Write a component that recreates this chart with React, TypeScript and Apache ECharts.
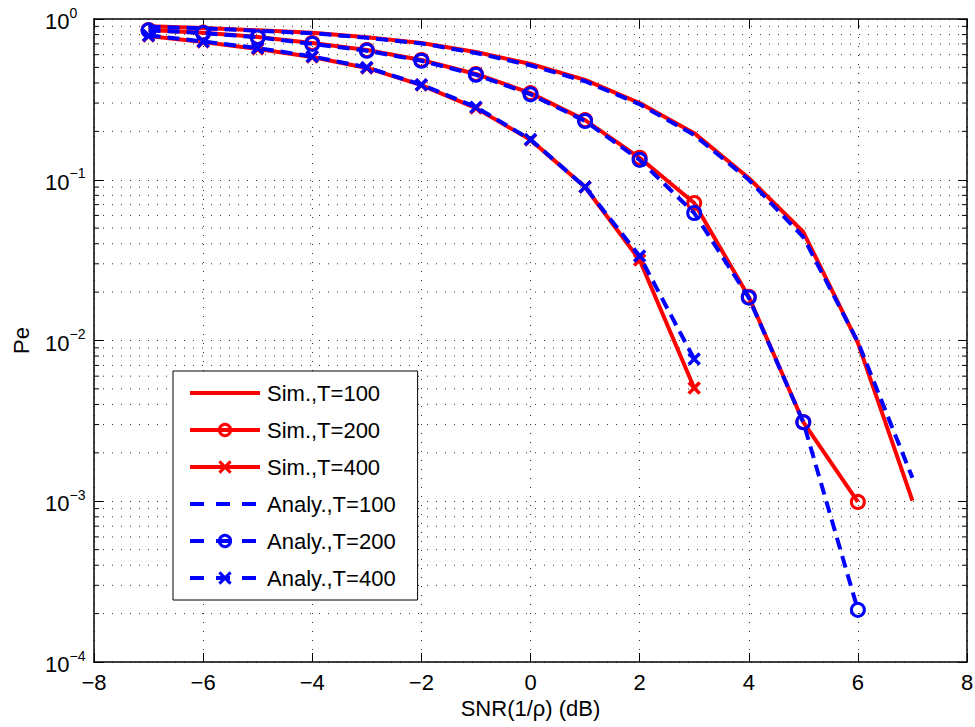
import React, { useEffect, useRef } from "react";
import * as echarts from "echarts";

const FONT = '"Liberation Sans", Arial, Helvetica, sans-serif';

// SNR values (dB)
const snr = [-7, -6, -5, -4, -3, -2, -1, 0, 1, 2, 3, 4, 5, 6, 7];

const simT100 = [0.9, 0.88, 0.85, 0.82, 0.77, 0.71, 0.623, 0.525, 0.418, 0.3, 0.195, 0.1026, 0.0473, 0.00966, 0.00101];
const anaT100 = [0.895, 0.875, 0.845, 0.815, 0.765, 0.705, 0.615, 0.515, 0.41, 0.295, 0.19, 0.1, 0.044, 0.0098, 0.0014];

const simT200 = [0.854, 0.822, 0.773, 0.709, 0.641, 0.556, 0.455, 0.346, 0.235, 0.137, 0.0717, 0.0187, 0.00311, 0.00099];
const anaT200 = [0.85, 0.818, 0.77, 0.7, 0.635, 0.55, 0.45, 0.34, 0.232, 0.133, 0.0621, 0.0185, 0.0031, 0.000211];

const simT400 = [0.784, 0.719, 0.651, 0.58, 0.496, 0.388, 0.279, 0.177, 0.0901, 0.0317, 0.00506];
const anaT400 = [0.79, 0.725, 0.66, 0.585, 0.5, 0.39, 0.283, 0.178, 0.09, 0.0335, 0.00767];

const seriesNames = [
  "Sim.,T=100",
  "Sim.,T=200",
  "Sim.,T=400",
  "Analy.,T=100",
  "Analy.,T=200",
  "Analy.,T=400",
];

// minor grid positions on the log axis (2..9 x 10^k)
const minorMultipliers = [2, 3, 4, 5, 6, 7, 8, 9];
const decades = [-4, -3, -2, -1];

const RED = "#ff0000";
const BLUE = "#0000ff";
const X_SYMBOL = "path://M0,0L10,10M0,10L10,0";
const TRANSPARENT = "rgba(0,0,0,0)";

function pairs(vals: number[]) {
  return vals.map((v, i) => [snr[i], v]);
}

export default function App() {
  const ref = useRef<HTMLDivElement>(null);

  useEffect(() => {
    if (!ref.current) return;
    const chart = echarts.init(ref.current, undefined, { renderer: "svg" });

    const minorVals: number[] = [];
    decades.forEach((d) => minorMultipliers.forEach((m) => minorVals.push(m * Math.pow(10, d))));

    const gridDot = { color: "#333", width: 1, type: [1, 8] as any };

    const lineSeries = (
      name: string,
      vals: number[],
      color: string,
      dashed: boolean,
      marker: "none" | "circle" | "x"
    ) => ({
      name,
      type: "line",
      data: pairs(vals),
      color,
      symbol: marker === "none" ? "none" : marker === "circle" ? "circle" : X_SYMBOL,
      symbolSize: marker === "circle" ? 13 : 11,
      showSymbol: marker !== "none",
      symbolKeepAspect: true,
      lineStyle: { color, width: 4, type: dashed ? [12, 7] : "solid" },
      itemStyle: {
        color: marker === "circle" ? TRANSPARENT : color,
        borderColor: color,
        borderWidth: marker === "circle" ? 3 : 3.5,
      },
      z: dashed ? 4 : 3,
      clip: true,
    });

    const legendItem = (name: string, color: string, dashed: boolean, hasMarker: boolean) => ({
      name,
      lineStyle: { color, width: 4, type: dashed ? [14, 12] : "solid" },
      itemStyle: hasMarker
        ? { color: TRANSPARENT, borderColor: color, borderWidth: 3 }
        : { color: TRANSPARENT, borderColor: TRANSPARENT, borderWidth: 0 },
    });

    const option: any = {
      animation: false,
      backgroundColor: "#fff",
      textStyle: { fontFamily: FONT },
      grid: { left: 94, right: 8, top: 19, bottom: 65, containLabel: false, outerBoundsMode: "none" },
      legend: {
        data: [
          legendItem(seriesNames[0], RED, false, false),
          legendItem(seriesNames[1], RED, false, true),
          legendItem(seriesNames[2], RED, false, true),
          legendItem(seriesNames[3], BLUE, true, false),
          legendItem(seriesNames[4], BLUE, true, true),
          legendItem(seriesNames[5], BLUE, true, true),
        ],
        orient: "vertical",
        left: 173,
        top: 371,
        itemWidth: 70,
        itemHeight: 14,
        itemGap: 13,
        padding: [10, 22, 10, 15],
        borderColor: "#000",
        borderWidth: 1,
        backgroundColor: "#fff",
        lineStyle: { width: 4 },
        itemStyle: { borderWidth: 3 },
        textStyle: { fontSize: 22, fontFamily: FONT, color: "#000", lineHeight: 24, padding: [0, 0, 0, 2] },
        z: 10,
      },
      xAxis: [
        {
          type: "value",
          min: -8,
          max: 8,
          interval: 2,
          position: "bottom",
          axisLine: { show: true, onZero: false, lineStyle: { color: "#000", width: 1.5 } },
          axisTick: { show: true, inside: true, length: 9, lineStyle: { color: "#000", width: 1 } },
          axisLabel: {
            fontSize: 22,
            fontFamily: FONT,
            color: "#000",
            margin: 9,
            formatter: (v: number) => String(v).replace("-", "\u2212"),
          },
          splitLine: { show: true, lineStyle: gridDot },
          name: "SNR(1/\u03c1) (dB)",
          nameLocation: "middle",
          nameGap: 34,
          nameTextStyle: { fontSize: 22, fontFamily: FONT, color: "#000" },
        },
        {
          type: "value",
          min: -8,
          max: 8,
          interval: 2,
          position: "top",
          axisLine: { show: true, onZero: false, lineStyle: { color: "#000", width: 1.5 } },
          axisTick: { show: true, inside: true, length: 9, lineStyle: { color: "#000", width: 1 } },
          axisLabel: { show: false },
          splitLine: { show: false },
        },
      ],
      yAxis: [
        {
          type: "log",
          logBase: 10,
          min: 1e-4,
          max: 1,
          position: "left",
          axisLine: { show: true, onZero: false, lineStyle: { color: "#000", width: 1.5 } },
          axisTick: { show: true, inside: true, length: 9, lineStyle: { color: "#000", width: 1 } },
          axisLabel: {
            margin: 49,
            align: "left",
            formatter: (v: number) => {
              const e = Math.round(Math.log10(v));
              const sup = e === 0 ? "0" : "\u2212" + Math.abs(e);
              return "{b|10}{s|" + sup + "}";
            },
            rich: {
              b: { fontSize: 22, lineHeight: 27, verticalAlign: "bottom", fontFamily: FONT, color: "#000" },
              s: { fontSize: 14, lineHeight: 14, verticalAlign: "top", fontFamily: FONT, color: "#000" },
            },
          },
          splitLine: { show: true, lineStyle: gridDot },
          minorTick: { show: false },
          name: "Pe",
          nameLocation: "middle",
          nameGap: 62,
          nameRotate: 90,
          nameTextStyle: { fontSize: 22, fontFamily: FONT, color: "#000" },
        },
        {
          type: "log",
          logBase: 10,
          min: 1e-4,
          max: 1,
          position: "right",
          axisLine: { show: true, onZero: false, lineStyle: { color: "#000", width: 1.5 } },
          axisTick: { show: true, inside: true, length: 9, lineStyle: { color: "#000", width: 1 } },
          axisLabel: { show: false },
          splitLine: { show: false },
        },
      ],
      series: [
        {
          name: "minorGrid",
          type: "custom",
          xAxisIndex: 0,
          yAxisIndex: 0,
          silent: true,
          z: 1,
          clip: false,
          data: minorVals.map((v) => [-8, v]),
          renderItem: (params: any, api: any) => {
            const pt = api.coord([-8, api.value(1)]);
            const cs = params.coordSys;
            const y = pt[1];
            return {
              type: "group",
              children: [
                {
                  type: "line",
                  shape: { x1: cs.x, y1: y, x2: cs.x + cs.width, y2: y },
                  style: { stroke: "#333", lineWidth: 1, lineDash: [1, 8] },
                },
                {
                  type: "line",
                  shape: { x1: cs.x, y1: y, x2: cs.x + 5, y2: y },
                  style: { stroke: "#000", lineWidth: 1 },
                },
                {
                  type: "line",
                  shape: { x1: cs.x + cs.width - 5, y1: y, x2: cs.x + cs.width, y2: y },
                  style: { stroke: "#000", lineWidth: 1 },
                },
              ],
            };
          },
        },
        lineSeries(seriesNames[0], simT100, RED, false, "none"),
        lineSeries(seriesNames[1], simT200, RED, false, "circle"),
        lineSeries(seriesNames[2], simT400, RED, false, "x"),
        lineSeries(seriesNames[3], anaT100, BLUE, true, "none"),
        lineSeries(seriesNames[4], anaT200, BLUE, true, "circle"),
        lineSeries(seriesNames[5], anaT400, BLUE, true, "x"),
      ],
    };

    chart.setOption(option);
    return () => chart.dispose();
  }, []);

  return (
    <div
      ref={ref}
      style={{ position: "fixed", left: 0, top: 0, width: 975, height: 727, background: "#fff" }}
    />
  );
}
